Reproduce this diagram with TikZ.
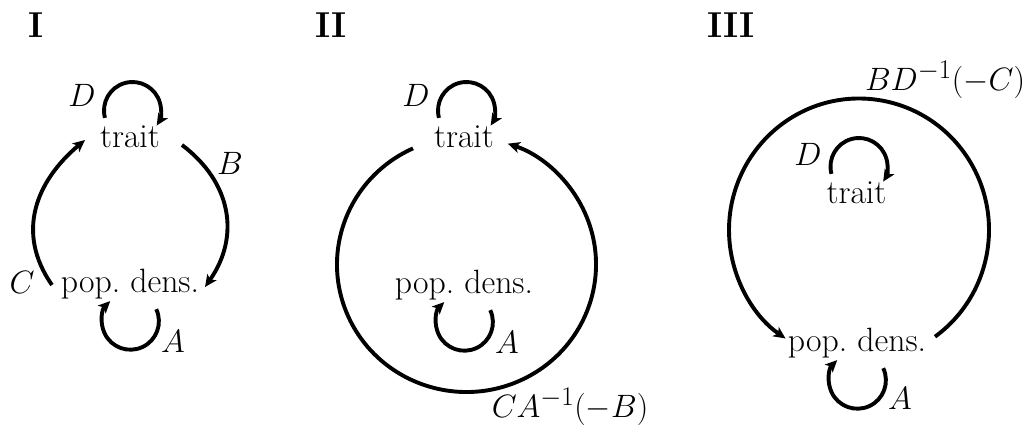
\documentclass[tikz,border=0pt]{standalone}
\usetikzlibrary{arrows.meta}
\newcommand{\coefm}[1]{\scalebox{1.3}{$#1$}}

\begin{document}
\begin{tikzpicture}[x=1pt, y=1pt,
    lnk/.style={line width=3.9pt, -{Stealth[length=12pt, width=11pt, inset=3pt]}},
    var/.style={inner sep=0pt, anchor=base, font=\fontsize{33.7}{40}\selectfont\frenchspacing},
    coef/.style={inner sep=0pt, font=\fontsize{24.88}{30}\selectfont},
    panel/.style={inner sep=0pt, font=\fontsize{36}{42}\selectfont\bfseries}
  ]
  \useasboundingbox (0,0) rectangle (1029,-434);

  % panel I
  \node[panel] (h1) at (36,-25) {I};
  \node[var] (t1) at (130,-147) {trait};
  \node[var] (p1) at (130,-292) {pop. dens.};
  \draw[lnk] ([shift={(2.5,36.5)}]t1.base) ++(195:28.5) arc[start angle=195, end angle=-32, radius=28.5];
  \draw[lnk] ([shift={(0.4,-29.2)}]p1.base) ++(25:28.5) arc[start angle=25, end angle=-225, radius=28.5];
  \draw[lnk] ([shift={(52,2)}]t1.base) to[out=-37, in=55, looseness=1.1] ([shift={(75,5)}]p1.base);
  \draw[lnk] ([shift={(-78,7)}]p1.base) to[out=125, in=-140, looseness=1.1] ([shift={(-45,7)}]t1.base);
  \node[coef] (d1) at (82,-95.5) {\coefm{D}};
  \node[coef] (b1) at (230,-163) {\coefm{B}};
  \node[coef] (c1) at (22,-282) {\coefm{C}};
  \node[coef] (a1) at (173,-341) {\coefm{A}};

  % panel II
  \node[panel] (h2) at (331,-25) {II};
  \node[var] (t2) at (464,-147) {trait};
  \node[var] (p2) at (464,-293) {pop. dens.};
  \draw[lnk] ([shift={(2.5,36.5)}]t2.base) ++(195:28.5) arc[start angle=195, end angle=-32, radius=28.5];
  \draw[lnk] ([shift={(0.4,-29.2)}]p2.base) ++(25:28.5) arc[start angle=25, end angle=-225, radius=28.5];
  \draw[lnk] ([shift={(2.5,-117.5)}]t2.base) ++(114.4:129.5 and 127.5)
    arc[start angle=114.4, end angle=431.4, x radius=129.5, y radius=127.5];
  \node[coef] (d2) at (416,-95) {\coefm{D}};
  \node[coef] (a2) at (507,-342) {\coefm{A}};
  \node[coef] (ca) at (570,-407) {\coefm{CA^{-1}(-B)}};

  % panel III
  \node[panel] (h3) at (731,-25) {III};
  \node[var] (t3) at (856.5,-203) {trait};
  \node[var] (p3) at (857,-351) {pop. dens.};
  \draw[lnk] ([shift={(2.5,36.5)}]t3.base) ++(195:28.5) arc[start angle=195, end angle=-32, radius=28.5];
  \draw[lnk] ([shift={(0.4,-29.2)}]p3.base) ++(25:28.5) arc[start angle=25, end angle=-225, radius=28.5];
  \draw[lnk] ([shift={(2,121)}]p3.base) ++(-54.2:130 and 131.5)
    arc[start angle=-54.2, end angle=235.6, x radius=130, y radius=131.5];
  \node[coef] (d3) at (808,-154) {\coefm{D}};
  \node[coef] (a3) at (900,-398) {\coefm{A}};
  \node[coef] (bd) at (945,-80) {\coefm{BD^{-1}(-C)}};
\end{tikzpicture}
\end{document}
